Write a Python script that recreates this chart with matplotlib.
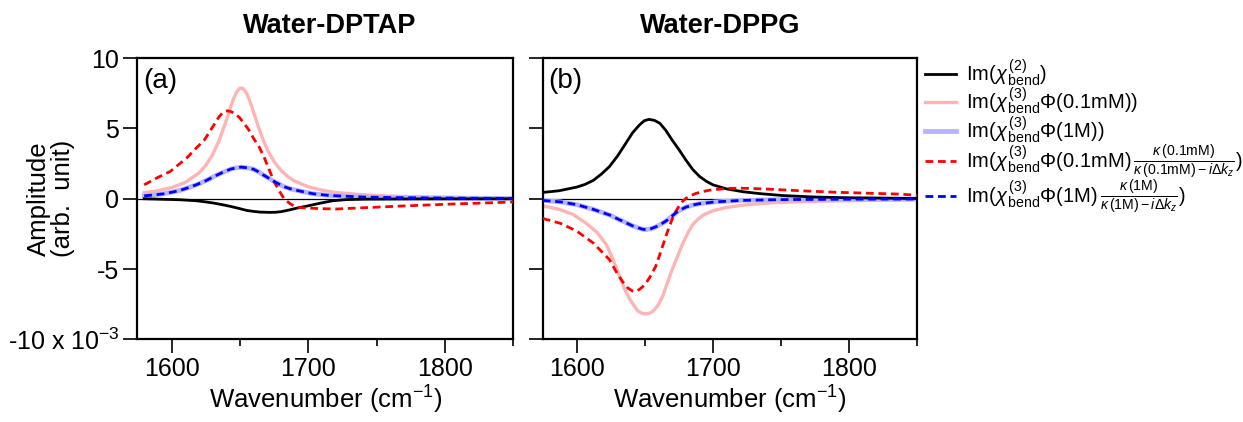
import matplotlib
matplotlib.use('Agg')
import matplotlib.pyplot as plt
from matplotlib.ticker import FixedLocator

plt.rcParams['font.family'] = ['Liberation Sans', 'DejaVu Sans']
plt.rcParams['mathtext.fontset'] = 'custom'
plt.rcParams['mathtext.rm'] = 'Liberation Sans'
plt.rcParams['mathtext.it'] = 'Liberation Sans:italic'
plt.rcParams['mathtext.bf'] = 'Liberation Sans:bold'

# ---- data (amplitude in units of 1e-3) ----
# panel (a) Water-DPTAP
a_chi2_x = [1580, 1606, 1618, 1624, 1631, 1637, 1643, 1649, 1655, 1660, 1665, 1672, 1676, 1680, 1686,
            1692, 1700, 1709, 1718, 1728, 1741, 1780, 1850]
a_chi2_y = [0.0, -0.07, -0.14, -0.21, -0.31, -0.42, -0.54, -0.68, -0.83, -0.9, -0.95, -0.97, -0.96, -0.92, -0.8,
            -0.66, -0.5, -0.31, -0.14, -0.06, -0.03, -0.01, 0.0]

a_pink_x = [1580, 1590, 1600, 1610, 1620, 1625, 1630, 1635, 1640, 1642.5, 1645, 1647.5, 1650, 1652.5, 1655,
            1657.5, 1660, 1662.5, 1665, 1667.5, 1670, 1675, 1680, 1685, 1690, 1700, 1710, 1720, 1740,
            1760, 1780, 1800, 1820, 1850]
a_pink_y = [0.43, 0.57, 0.79, 1.16, 1.83, 2.37, 3.13, 4.19, 5.57, 6.32, 7.03, 7.58, 7.87, 7.84, 7.49,
            6.89, 6.17, 5.42, 4.71, 4.07, 3.51, 2.64, 2.02, 1.58, 1.26, 0.85, 0.61, 0.45, 0.28,
            0.19, 0.13, 0.10, 0.08, 0.06]

a_blue_x = [1580, 1587, 1594, 1600, 1606, 1612, 1618, 1625, 1631, 1637, 1643, 1647, 1651, 1655.5, 1660,
            1663.5, 1667, 1671, 1675, 1682, 1686.5, 1692, 1698, 1704, 1716, 1741, 1765, 1814, 1850]
a_blue_y = [0.21, 0.27, 0.35, 0.46, 0.59, 0.78, 0.99, 1.28, 1.58, 1.86, 2.1, 2.2, 2.25, 2.2, 2.1,
            1.92, 1.7, 1.47, 1.23, 0.87, 0.72, 0.59, 0.46, 0.35, 0.23, 0.12, 0.08, 0.04, 0.02]

a_red_x = [1580, 1589, 1599, 1611, 1617, 1624, 1631, 1634.5, 1638, 1641, 1643.5, 1646, 1649.5, 1653,
           1656.5, 1660, 1664, 1668, 1671.5, 1675, 1678.5, 1682, 1686, 1690, 1694.5, 1699, 1712, 1721,
           1731, 1768, 1804, 1850]
a_red_y = [0.99, 1.47, 1.94, 2.89, 3.5, 4.18, 5.25, 5.8, 6.19, 6.26, 6.2, 6.08, 5.8, 5.37,
           4.9, 4.3, 3.7, 2.89, 2.05, 1.23, 0.6, 0.05, -0.3, -0.55, -0.63, -0.66, -0.71, -0.73,
           -0.68, -0.52, -0.38, -0.23]

# panel (b) Water-DPPG
b_chi2_x = [1575, 1587, 1600, 1606, 1612, 1618, 1624, 1630, 1636, 1641, 1646, 1649.5, 1653, 1657, 1661,
            1665.5, 1670, 1675, 1680, 1685, 1690, 1695, 1700, 1710, 1722, 1735, 1751, 1776, 1800, 1850]
b_chi2_y = [0.45, 0.57, 0.83, 1.02, 1.3, 1.75, 2.29, 3.05, 3.95, 4.7, 5.25, 5.55, 5.65, 5.58, 5.37,
            4.85, 4.18, 3.5, 2.77, 2.1, 1.6, 1.25, 0.99, 0.7, 0.5, 0.36, 0.23, 0.12, 0.07, 0.02]

b_pink_x = [1575, 1587, 1597, 1607, 1615, 1622, 1626.5, 1631, 1635, 1639, 1642, 1645, 1648, 1651, 1653.5,
            1656, 1659.5, 1663, 1666.5, 1670, 1674, 1678, 1681.5, 1685, 1689, 1693, 1700, 1710, 1720,
            1730, 1745, 1765, 1790, 1815, 1850]
b_pink_y = [-0.5, -0.75, -1.1, -1.75, -2.4, -3.3, -4.3, -5.4, -6.4, -7.16, -7.6, -8.0, -8.15, -8.2, -8.15,
            -8.0, -7.6, -6.95, -6.0, -5.04, -4.1, -3.14, -2.45, -1.85, -1.45, -1.15, -0.85, -0.62, -0.48,
            -0.38, -0.28, -0.21, -0.15, -0.11, -0.07]

b_blue_x = [1575, 1588, 1600, 1612, 1624, 1630, 1636, 1641, 1646, 1648.5, 1651, 1654.5, 1658, 1662, 1666,
            1669.5, 1673, 1676.5, 1680, 1685, 1690, 1702, 1720, 1750, 1800, 1850]
b_blue_y = [-0.12, -0.22, -0.42, -0.75, -1.15, -1.43, -1.7, -1.93, -2.1, -2.17, -2.2, -2.13, -2.0, -1.8, -1.55,
            -1.27, -0.98, -0.77, -0.6, -0.45, -0.35, -0.22, -0.12, -0.06, -0.03, -0.02]

b_red_x = [1575, 1588, 1600, 1612, 1624, 1629, 1634, 1637.5, 1641, 1643.5, 1646, 1648.5, 1651, 1654.5,
           1658, 1660.5, 1663, 1665.5, 1668, 1670.5, 1673, 1675.5, 1678, 1680.5, 1683, 1687.5, 1692,
           1697, 1702, 1712, 1722, 1740, 1764, 1788, 1812, 1837, 1850]
b_red_y = [-1.4, -1.75, -2.3, -3.14, -4.33, -5.2, -5.95, -6.35, -6.57, -6.6, -6.45, -6.25, -5.98, -5.45,
           -4.8, -4.1, -3.38, -2.65, -1.96, -1.35, -0.85, -0.45, -0.15, 0.05, 0.2, 0.38, 0.5,
           0.6, 0.66, 0.74, 0.75, 0.69, 0.57, 0.47, 0.4, 0.33, 0.25]

titles = ['Water-DPTAP', 'Water-DPPG']
panel_labels = ['(a)', '(b)']
labels = [r'Im($\chi^{\,(2)}_{\,\mathrm{bend}}$)',
          r'Im($\chi^{\,(3)}_{\,\mathrm{bend}}\Phi$(0.1mM))',
          r'Im($\chi^{\,(3)}_{\,\mathrm{bend}}\Phi$(1M))',
          r'Im($\chi^{\,(3)}_{\,\mathrm{bend}}\Phi$(0.1mM)$\,\frac{\kappa\,\mathrm{(0.1mM)}}{\kappa\,\mathrm{(0.1mM)}-i\Delta k_z}$)',
          r'Im($\chi^{\,(3)}_{\,\mathrm{bend}}\Phi$(1M)$\,\frac{\kappa\,\mathrm{(1M)}}{\kappa\,\mathrm{(1M)}-i\Delta k_z}$)']
ytick_vals = [-10, -5, 0, 5, 10]
ytick_labels = [r'-10 x 10$^{-3}$', '-5', '0', '5', '10']

PINK = '#ffb4b4'
LBLUE = '#b4b4ff'

fig = plt.figure(figsize=(12.43, 4.22), dpi=100)
ax1 = fig.add_axes([0.1105, 0.196, 0.3025, 0.666])
ax2 = fig.add_axes([0.4366, 0.196, 0.3014, 0.666])

data = [(a_chi2_x, a_chi2_y, a_pink_x, a_pink_y, a_blue_x, a_blue_y, a_red_x, a_red_y),
        (b_chi2_x, b_chi2_y, b_pink_x, b_pink_y, b_blue_x, b_blue_y, b_red_x, b_red_y)]

handles = None
for i, ax in enumerate([ax1, ax2]):
    cx, cy, px, py, bx, by, rx, ry = data[i]
    ax.axhline(0, color='black', lw=0.9, zorder=1)
    h_pink, = ax.plot(px, py, color=PINK, lw=2.4, zorder=2)
    h_lblue, = ax.plot(bx, by, color=LBLUE, lw=3.4, zorder=2)
    h_black, = ax.plot(cx, cy, color='black', lw=2.0, zorder=3)
    h_red, = ax.plot(rx, ry, color='red', lw=2.0, ls=(0, (2.8, 1.7)), zorder=4)
    h_blue, = ax.plot(bx, by, color='blue', lw=2.0, ls=(0, (2.8, 1.7)), zorder=5)
    handles = [h_black, h_pink, h_lblue, h_red, h_blue]

    ax.set_xlim(1575, 1850)
    ax.set_ylim(-10, 10)
    ax.xaxis.set_major_locator(FixedLocator([1600, 1700, 1800]))
    ax.xaxis.set_minor_locator(FixedLocator([1650, 1750, 1850]))
    ax.set_yticks(ytick_vals)
    ax.tick_params(axis='both', which='major', direction='out', length=10, width=1.2,
                   labelsize=18, pad=3, top=False, right=False)
    ax.tick_params(axis='x', which='minor', direction='out', length=5, width=1.2)
    for s in ax.spines.values():
        s.set_linewidth(1.6)
    ax.set_xlabel(r'Wavenumber (cm$^{-1}$)', fontsize=18.5, labelpad=2)
    ax.text(0.015, 0.965, panel_labels[i], transform=ax.transAxes, fontsize=20,
            ha='left', va='top')
    tx = 0.512 if i == 0 else 0.473
    ax.text(tx, 1.07, titles[i], transform=ax.transAxes, fontsize=19.5,
            fontweight='bold', ha='center', va='bottom')

ax1.set_yticklabels(ytick_labels)
ax2.set_yticklabels([])
ax1.set_ylabel('Amplitude\n(arb.  unit)', fontsize=18.5, linespacing=1.0)
ax1.yaxis.set_label_coords(-0.165, 0.5)

ax2.legend(handles, labels, loc='upper left', bbox_to_anchor=(1.0, 1.03),
           frameon=False, fontsize=14.5, handlelength=1.5, handletextpad=0.5,
           labelspacing=-0.15, borderaxespad=0.2, borderpad=0.2)

fig.savefig('out.png', dpi=100)
